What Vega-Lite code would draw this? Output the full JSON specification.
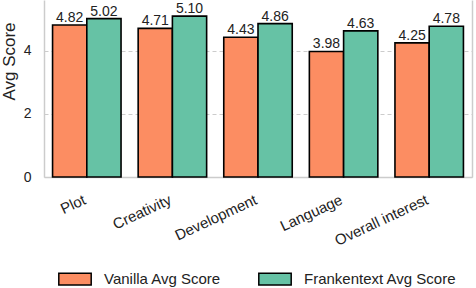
{
  "$schema": "https://vega.github.io/schema/vega-lite/v6.json",
  "width": 428,
  "height": 177,
  "autosize": {"type": "none"},
  "padding": {"left": 44, "top": 0, "right": 4, "bottom": 111},
  "background": "white",
  "config": {
    "view": {"stroke": null},
    "font": "Liberation Sans"
  },
  "data": {
    "values": [
      {"metric": "Plot", "series": "Vanilla Avg Score", "score": 4.82, "label": "4.82"},
      {"metric": "Plot", "series": "Frankentext Avg Score", "score": 5.02, "label": "5.02"},
      {"metric": "Creativity", "series": "Vanilla Avg Score", "score": 4.71, "label": "4.71"},
      {"metric": "Creativity", "series": "Frankentext Avg Score", "score": 5.10, "label": "5.10"},
      {"metric": "Development", "series": "Vanilla Avg Score", "score": 4.43, "label": "4.43"},
      {"metric": "Development", "series": "Frankentext Avg Score", "score": 4.86, "label": "4.86"},
      {"metric": "Language", "series": "Vanilla Avg Score", "score": 3.98, "label": "3.98"},
      {"metric": "Language", "series": "Frankentext Avg Score", "score": 4.63, "label": "4.63"},
      {"metric": "Overall interest", "series": "Vanilla Avg Score", "score": 4.25, "label": "4.25"},
      {"metric": "Overall interest", "series": "Frankentext Avg Score", "score": 4.78, "label": "4.78"}
    ]
  },
  "encoding": {
    "x": {
      "field": "metric", "type": "nominal",
      "sort": ["Plot", "Creativity", "Development", "Language", "Overall interest"],
      "scale": {"paddingInner": 0.2, "paddingOuter": 0.1},
      "axis": {
        "title": null, "labelAngle": -25, "labelAlign": "right", "labelBaseline": "top",
        "labelFontSize": 15, "labelColor": "#222", "labelPadding": 15, "labelOffset": -5,
        "ticks": false, "domainColor": "#cccccc", "domainWidth": 1.5, "grid": false
      }
    },
    "xOffset": {
      "field": "series", "type": "nominal",
      "sort": ["Vanilla Avg Score", "Frankentext Avg Score"]
    },
    "y": {
      "field": "score", "type": "quantitative",
      "scale": {"domain": [0, 5.61], "nice": false, "zero": true}
    }
  },
  "layer": [
    {
      "mark": {"type": "bar", "stroke": "black", "strokeWidth": 1.6},
      "encoding": {
        "y": {
          "field": "score", "type": "quantitative",
          "axis": {
            "title": "Avg Score", "titleFontSize": 17, "titleFontWeight": "normal", "titleColor": "#222",
            "titlePadding": 5, "titleY": 61,
            "values": [0, 2, 4], "labelFontSize": 14, "labelColor": "#222", "labelPadding": 13,
            "ticks": false, "domainColor": "#cccccc", "domainWidth": 1.5,
            "grid": true, "gridDash": [4, 3], "gridColor": "#cccccc", "gridWidth": 1
          }
        },
        "color": {
          "field": "series", "type": "nominal",
          "sort": ["Vanilla Avg Score", "Frankentext Avg Score"],
          "scale": {"domain": ["Vanilla Avg Score", "Frankentext Avg Score"], "range": ["#fc8d62", "#66c2a5"]},
          "legend": {
            "title": null, "orient": "none", "direction": "horizontal",
            "legendX": 14, "legendY": 262,
            "symbolType": "M-1,-0.36H1V0.36H-1Z", "symbolSize": 1050,
            "symbolStrokeColor": "black", "symbolStrokeWidth": 1.5,
            "labelFontSize": 15, "labelColor": "#222", "labelOffset": 12,
            "columnPadding": 33
          }
        }
      }
    },
    {
      "mark": {"type": "text", "baseline": "alphabetic", "dy": -3, "fontSize": 14, "color": "#222"},
      "encoding": {
        "text": {"field": "label"},
        "y": {
          "field": "score", "type": "quantitative",
          "axis": {"orient": "right", "title": null, "labels": false, "ticks": false, "grid": false,
                   "domainColor": "#cccccc", "domainWidth": 1.5}
        }
      }
    }
  ],
  "resolve": {"axis": {"y": "independent"}}
}
